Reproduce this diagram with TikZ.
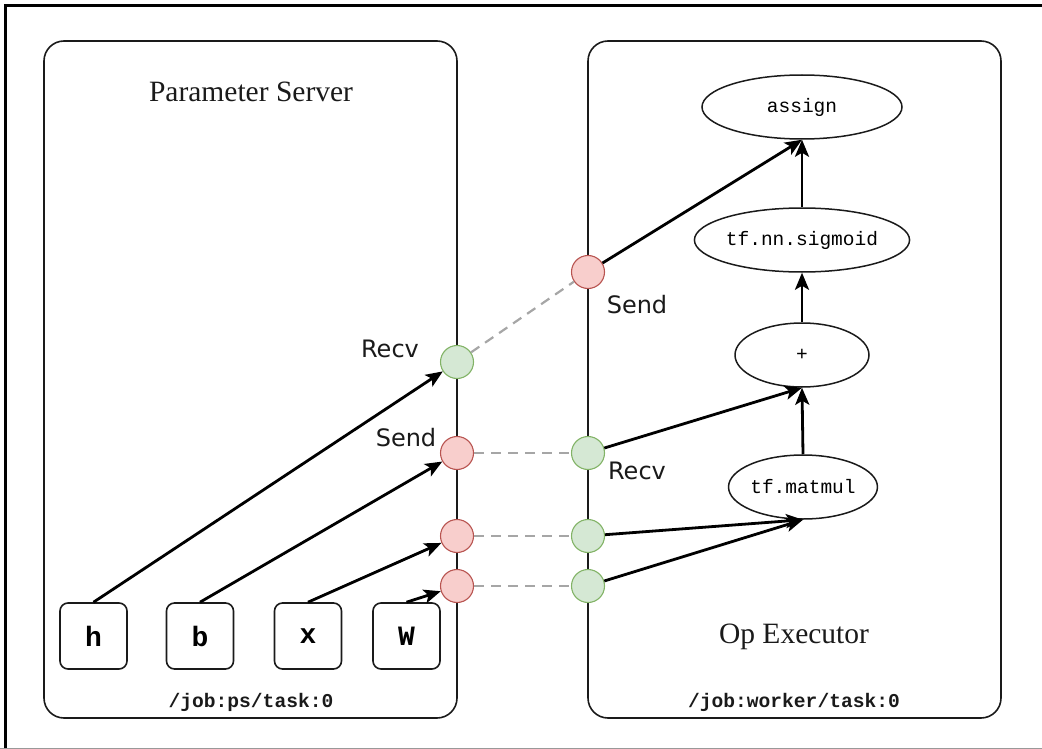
\documentclass[tikz,border=0pt]{standalone}
\usepackage{fontspec}
\setmainfont{Liberation Serif}
\setsansfont{DejaVu Sans}
\setmonofont{Liberation Mono}
\usetikzlibrary{shapes.geometric,arrows.meta}
\definecolor{redfill}{HTML}{F8CECC}
\definecolor{redline}{HTML}{B85450}
\definecolor{greenfill}{HTML}{D5E8D4}
\definecolor{greenline}{HTML}{82B366}
\definecolor{dashgray}{HTML}{A6A6A6}
\definecolor{ink}{HTML}{1A1A1A}
\begin{document}
\begin{tikzpicture}[x=1pt,y={(0pt,-1pt)},
  container/.style={draw=ink, line width=1.6pt, rounded corners=20pt, inner sep=0pt},
  varbox/.style={draw=ink, line width=1.6pt, rounded corners=8pt, minimum width=67pt, minimum height=66pt, inner sep=0pt, font=\fontsize{28}{32}\selectfont\ttfamily\bfseries},
  opnode/.style={ellipse, draw=ink, line width=1.5pt, inner sep=0pt, font=\fontsize{19.5}{22}\selectfont\ttfamily},
  sendc/.style={circle, draw=redline, fill=redfill, line width=1.1pt, minimum size=33pt, inner sep=0pt},
  recvc/.style={circle, draw=greenline, fill=greenfill, line width=1.1pt, minimum size=33pt, inner sep=0pt},
  flow/.style={-{Stealth[length=17pt,width=14pt,inset=4pt]}, line width=2.8pt, draw=black},
  link/.style={draw=dashgray, line width=2.2pt, dash pattern=on 10pt off 7pt},
  titletext/.style={font=\fontsize{29.5}{34}\selectfont\rmfamily, text=ink},
  tasktext/.style={font=\fontsize{19.6}{22}\selectfont\ttfamily\bfseries, text=ink},
  porttext/.style={font=\fontsize{24}{28}\selectfont\sffamily, text=ink, inner sep=0pt}
]
\useasboundingbox (0,0) rectangle (1042,749);
% outer frame
\draw[line width=3pt, draw=black] (5,749) -- (5,6) -- (1042,6);
\draw[line width=1pt, draw=black!40] (0,748) -- (1042,748);

% containers
\node[container, minimum width=413pt, minimum height=677pt] (ps) at (250.5,379.5) {};
\node[container, minimum width=413pt, minimum height=677pt] (worker) at (794.5,379.5) {};

\node[titletext] (pstitle) at (251,92) {Parameter Server};
\node[titletext] (optitle) at (794,637) {Op Executor};
\node[tasktext] (pstask) at (251,702) {/job:ps/task:0};
\node[tasktext] (wtask) at (794,702) {/job:worker/task:0};

% variable boxes
\node[varbox] (h) at (93.5,636) {h};
\node[varbox] (b) at (200,636) {b};
\node[varbox] (x) at (308,636) {x};
\node[varbox] (W) at (406.5,636) {W};

% ops
\node[opnode, minimum width=200pt, minimum height=64pt] (assign) at (802,107) {assign};
\node[opnode, minimum width=198pt, minimum height=64pt] (sigmoid) at (802,240) {tf.nn.sigmoid};
\node[opnode, minimum width=134pt, minimum height=64pt] (plus) at (802,355) {+};
\node[opnode, minimum width=132pt, minimum height=64pt] (matmul) at (803,487) {tf.matmul};

% ports
\node[recvc] (recvL) at (457,362) {};
\node[sendc] (sendL1) at (457,453) {};
\node[sendc] (sendL2) at (457,536) {};
\node[sendc] (sendL3) at (457,586) {};
\node[sendc] (sendR) at (588,272) {};
\node[recvc] (recvR1) at (588,453) {};
\node[recvc] (recvR2) at (588,536) {};
\node[recvc] (recvR3) at (588,586) {};

% port labels
\node[porttext] (lblRecvL) at (390,349) {Recv};
\node[porttext] (lblSendL) at (406,438) {Send};
\node[porttext] (lblSendR) at (637,305) {Send};
\node[porttext] (lblRecvR) at (637,471) {Recv};

% dashed links
\draw[link] (recvL) -- (sendR);
\draw[link] (sendL1) -- (recvR1);
\draw[link] (sendL2) -- (recvR2);
\draw[link] (sendL3) -- (recvR3);

% flows on the parameter server
\draw[flow] (h.north) -- (recvL);
\draw[flow] (b.north) -- (sendL1);
\draw[flow] (x.north) -- (sendL2);
\draw[flow] (W.north) -- (sendL3);

% flows on the worker
\draw[flow] (sendR) -- (assign.south);
\draw[flow] (sigmoid.north) -- (assign.south);
\draw[flow] (plus.north) -- (sigmoid.south);
\draw[flow] (recvR1) -- (plus.south);
\draw[flow] (matmul.north) -- (plus.south);
\draw[flow] (recvR2) -- (matmul.south);
\draw[flow] (recvR3) -- (matmul.south);
\end{tikzpicture}
\end{document}
